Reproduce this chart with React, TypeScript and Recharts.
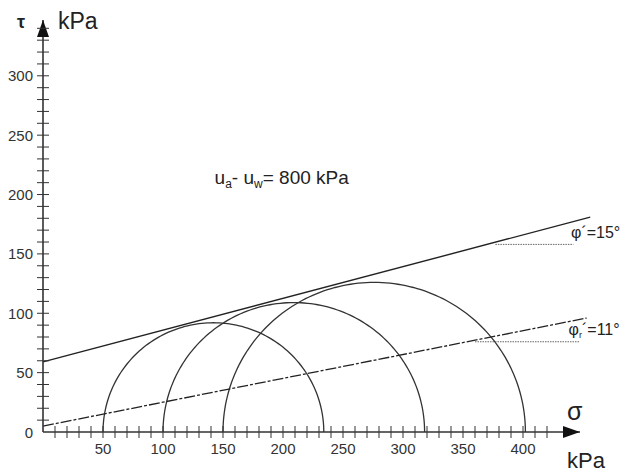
import React from 'react';
import { ComposedChart, Line, XAxis, YAxis, ReferenceLine, ReferenceDot } from 'recharts';

// Mohr circles: minor and major principal net stresses (kPa)
const sigma3 = [50, 100, 150];
const sigma1 = [234, 318, 402];

// Failure envelopes (sigma, tau) end points
const peakEnvelope = [
  { x: 0, y: 59 },
  { x: 456, y: 181 },
];
const residualEnvelope = [
  { x: 0, y: 5 },
  { x: 453, y: 96 },
];
// horizontal dotted reference lines for angle labels
const peakAngleLine = [
  { x: 377, y: 158 },
  { x: 442, y: 158 },
];
const residualAngleLine = [
  { x: 360, y: 76 },
  { x: 447, y: 76 },
];

const xTicks = [10, 20, 30, 40, 50, 60, 70, 80, 90, 100, 110, 120, 130, 140, 150, 160, 170, 180, 190, 200,
  210, 220, 230, 240, 250, 260, 270, 280, 290, 300, 310, 320, 330, 340, 350, 360, 370, 380, 390, 400, 410, 420];
const xLabels = [50, 100, 150, 200, 250, 300, 350, 400];
const yTicks = [0, 10, 20, 30, 40, 50, 60, 70, 80, 90, 100, 110, 120, 130, 140, 150, 160, 170, 180, 190, 200,
  210, 220, 230, 240, 250, 260, 270, 280, 290, 300, 310, 320, 330, 340];
const yLabels = [0, 50, 100, 150, 200, 250, 300];

const X_MAX = 447.5;
const Y_MAX = 347;

const FONT = '"Liberation Sans", Arial, sans-serif';
const INK = '#333';

const circles = sigma3.map((s3, i) => {
  const s1 = sigma1[i];
  const c = (s1 + s3) / 2;
  const r = (s1 - s3) / 2;
  const pts = [];
  for (let k = 0; k <= 120; k++) {
    const a = Math.PI - (Math.PI * k) / 120;
    pts.push({ x: c + r * Math.cos(a), y: r * Math.sin(a) });
  }
  return pts;
});

const XTick = (props: any) => {
  const { x, y, payload } = props;
  const v = payload.value;
  return (
    <g>
      <line x1={x} x2={x} y1={y - 6} y2={y + 6} stroke={INK} strokeWidth={1} />
      {xLabels.includes(v) && (
        <text x={x} y={y + 22} textAnchor="middle" fontSize={15} fill={INK} fontFamily={FONT}>
          {v}
        </text>
      )}
    </g>
  );
};

const YTick = (props: any) => {
  const { x, y, payload } = props;
  const v = payload.value;
  return (
    <g>
      {v !== 0 && <line x1={x - 6} x2={x + 6} y1={y} y2={y} stroke={INK} strokeWidth={1} />}
      {yLabels.includes(v) && (
        <text x={x - 10} y={y + 5.5} textAnchor="end" fontSize={15} fill={INK} fontFamily={FONT}>
          {v}
        </text>
      )}
    </g>
  );
};

export default function App() {
  return (
    <div style={{ position: 'absolute', left: 0, top: 0, width: 623, height: 473, background: '#fff' }}>
      <ComposedChart width={623} height={473} margin={{ top: 20, right: 43, bottom: 11, left: 3 }}>
        <XAxis
          type="number"
          dataKey="x"
          domain={[0, X_MAX]}
          allowDataOverflow
          ticks={xTicks}
          interval={0}
          height={30}
          tickSize={0}
          tickMargin={0}
          tickLine={false}
          axisLine={{ stroke: INK, strokeWidth: 1.6 }}
          tick={<XTick />}
        />
        <YAxis
          type="number"
          dataKey="y"
          domain={[0, Y_MAX]}
          allowDataOverflow
          ticks={yTicks}
          interval={0}
          width={40}
          tickSize={0}
          tickMargin={0}
          tickLine={false}
          axisLine={{ stroke: INK, strokeWidth: 1.6 }}
          tick={<YTick />}
        />
        {circles.map((pts, i) => (
          <Line
            key={i}
            data={pts}
            dataKey="y"
            type="linear"
            stroke={INK}
            strokeWidth={1.3}
            dot={false}
            activeDot={false}
            isAnimationActive={false}
          />
        ))}
        <ReferenceLine
          segment={peakEnvelope}
          stroke="#222"
          strokeWidth={1.4}
          ifOverflow="visible"
        />
        <ReferenceLine
          segment={residualEnvelope}
          stroke="#222"
          strokeWidth={1.3}
          strokeDasharray="11 2 3 2"
          ifOverflow="visible"
        />
        <ReferenceLine
          segment={peakAngleLine}
          stroke="#666"
          strokeWidth={1}
          strokeDasharray="1.5 1"
          ifOverflow="visible"
        />
        <ReferenceLine
          segment={residualAngleLine}
          stroke="#666"
          strokeWidth={1}
          strokeDasharray="1.5 1"
          ifOverflow="visible"
        />
        {/* axis arrows */}
        <ReferenceDot
          x={X_MAX}
          y={0}
          ifOverflow="visible"
          shape={(p: any) => (
            <polygon
              points={`${p.cx},${p.cy} ${p.cx - 17},${p.cy - 6} ${p.cx - 17},${p.cy + 6}`}
              fill="#111"
            />
          )}
        />
        <ReferenceDot
          x={0}
          y={Y_MAX}
          ifOverflow="visible"
          shape={(p: any) => (
            <polygon
              points={`${p.cx},${p.cy} ${p.cx - 6},${p.cy + 17} ${p.cx + 6},${p.cy + 17}`}
              fill="#111"
            />
          )}
        />
        {/* axis titles */}
        <ReferenceDot
          x={0}
          y={Y_MAX}
          ifOverflow="visible"
          shape={(p: any) => (
            <g fontFamily={FONT} fill="#222">
              <text x={p.cx - 22} y={p.cy + 8} textAnchor="middle" fontSize={18} fontWeight="bold">τ</text>
              <text x={p.cx + 15} y={p.cy + 9} fontSize={23}>kPa</text>
            </g>
          )}
        />
        <ReferenceDot
          x={X_MAX}
          y={0}
          ifOverflow="visible"
          shape={(p: any) => (
            <g fontFamily={FONT} fill="#222">
              <text x={p.cx - 13} y={p.cy - 12} fontSize={25}>σ</text>
              <text x={p.cx - 13} y={p.cy + 36} fontSize={22}>kPa</text>
            </g>
          )}
        />
        {/* annotations */}
        <ReferenceDot
          x={143}
          y={209}
          ifOverflow="visible"
          shape={(p: any) => (
            <text x={p.cx} y={p.cy} fontSize={19} fill="#222" fontFamily={FONT}>
              u<tspan fontSize={12} dy={4}>a</tspan>
              <tspan dy={-4}>- u</tspan>
              <tspan fontSize={12} dy={4}>w</tspan>
              <tspan dy={-4}>= 800 kPa</tspan>
            </text>
          )}
        />
        <ReferenceDot
          x={440}
          y={163}
          ifOverflow="visible"
          shape={(p: any) => (
            <text x={p.cx} y={p.cy} fontSize={16} fill="#222" fontFamily={FONT}>
              φ´=15°
            </text>
          )}
        />
        <ReferenceDot
          x={438}
          y={82}
          ifOverflow="visible"
          shape={(p: any) => (
            <text x={p.cx} y={p.cy} fontSize={16} fill="#222" fontFamily={FONT}>
              φ<tspan fontSize={9} dy={3}>r</tspan>
              <tspan dy={-3}>´=11°</tspan>
            </text>
          )}
        />
      </ComposedChart>
    </div>
  );
}
